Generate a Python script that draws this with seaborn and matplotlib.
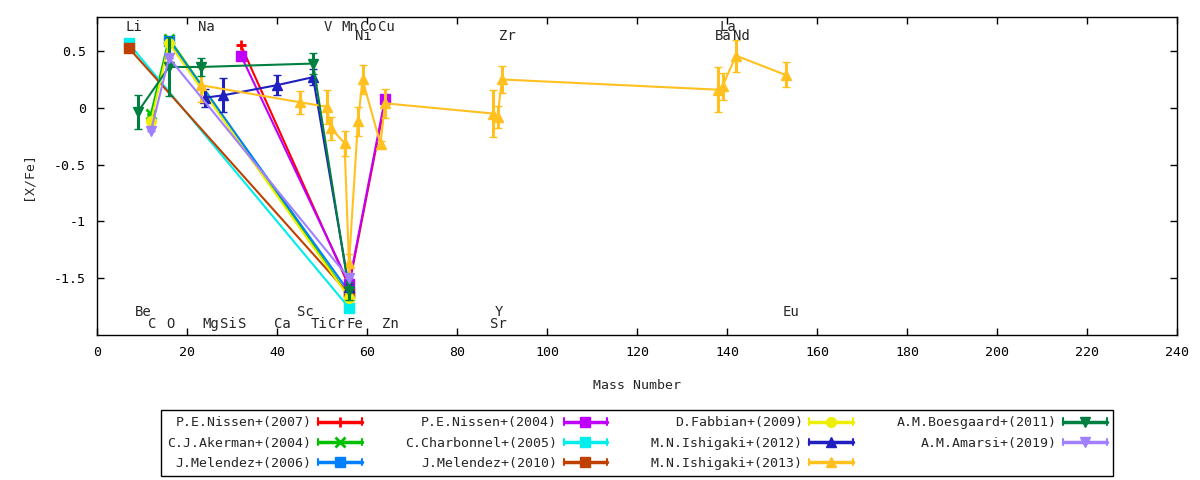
import matplotlib
matplotlib.use("Agg")
import matplotlib.pyplot as plt
import seaborn as sns
from matplotlib.lines import Line2D
from matplotlib.legend_handler import HandlerBase

# reference names, in gnuplot plotting order
refs = ["P.E.Nissen+(2007)", "C.J.Akerman+(2004)", "J.Melendez+(2006)",
        "P.E.Nissen+(2004)", "C.Charbonnel+(2005)", "J.Melendez+(2010)",
        "D.Fabbian+(2009)", "M.N.Ishigaki+(2012)", "M.N.Ishigaki+(2013)",
        "A.M.Boesgaard+(2011)", "A.M.Amarsi+(2019)"]
colors = ["#ff0000", "#00c000", "#0080ff", "#c000ff", "#00eeee", "#c04000",
          "#eeee00", "#2020c0", "#ffc020", "#008040", "#a080ff"]
markers = ["+", "x", "s", "s", "s", "s", "o", "^", "^", "v", "v"]

# mass number, [X/Fe], error
nissen07_m = [32, 56, 64]
nissen07_v = [0.55, -1.57, 0.05]
nissen07_e = [0, 0, 0]

akerman04_m = [12, 16, 56]
akerman04_v = [-0.05, 0.61, -1.66]
akerman04_e = [0, 0, 0]

melendez06_m = [16, 56]
melendez06_v = [0.59, -1.62]
melendez06_e = [0, 0]

nissen04_m = [32, 56, 64]
nissen04_v = [0.46, -1.55, 0.08]
nissen04_e = [0, 0, 0]

charbonnel05_m = [7, 56]
charbonnel05_v = [0.57, -1.76]
charbonnel05_e = [0, 0]

melendez10_m = [7, 56]
melendez10_v = [0.53, -1.64]
melendez10_e = [0, 0]

fabbian09_m = [12, 16, 56]
fabbian09_v = [-0.12, 0.57, -1.67]
fabbian09_e = [0, 0, 0]

ishigaki12_m = [24, 28, 40, 48, 56]
ishigaki12_v = [0.09, 0.11, 0.20, 0.27, -1.58]
ishigaki12_e = [0.08, 0.15, 0.09, 0.07, 0.03]

ishigaki13_m = [23, 45, 51, 52, 55, 56, 58, 59, 63, 64, 88, 89, 90, 138, 139, 142, 153]
ishigaki13_v = [0.20, 0.05, 0.01, -0.18, -0.31, -1.37, -0.12, 0.25, -0.32, 0.04,
                -0.05, -0.08, 0.25, 0.16, 0.19, 0.46, 0.29]
ishigaki13_e = [0.15, 0.10, 0.15, 0.10, 0.11, 0.08, 0.13, 0.13, 0.03, 0.13,
                0.21, 0.10, 0.12, 0.20, 0.12, 0.14, 0.11]

boesgaard11_m = [9, 16, 23, 48, 56]
boesgaard11_v = [-0.04, 0.36, 0.36, 0.39, -1.61]
boesgaard11_e = [0.15, 0.26, 0.08, 0.09, 0.08]

amarsi19_m = [12, 16, 56]
amarsi19_v = [-0.20, 0.44, -1.50]
amarsi19_e = [0, 0, 0]

series = [
    (nissen07_m, nissen07_v, nissen07_e),
    (akerman04_m, akerman04_v, akerman04_e),
    (melendez06_m, melendez06_v, melendez06_e),
    (nissen04_m, nissen04_v, nissen04_e),
    (charbonnel05_m, charbonnel05_v, charbonnel05_e),
    (melendez10_m, melendez10_v, melendez10_e),
    (fabbian09_m, fabbian09_v, fabbian09_e),
    (ishigaki12_m, ishigaki12_v, ishigaki12_e),
    (ishigaki13_m, ishigaki13_v, ishigaki13_e),
    (boesgaard11_m, boesgaard11_v, boesgaard11_e),
    (amarsi19_m, amarsi19_v, amarsi19_e),
]

# element labels: name, mass number, row (0,1 top; 2,3 bottom)
elem_names = ["Li", "Be", "C", "O", "Na", "Mg", "Si", "S", "Ca", "Sc", "Ti", "V", "Cr",
              "Mn", "Fe", "Ni", "Co", "Cu", "Zn", "Sr", "Y", "Zr", "Ba", "La", "Nd", "Eu"]
elem_mass = [7, 9, 12, 16, 23, 24, 28, 32, 40, 45, 48, 51, 52,
             55, 56, 58, 59, 63, 64, 88, 89, 90, 138, 139, 142, 153]
elem_row = [0, 2, 3, 3, 0, 3, 3, 3, 3, 2, 3, 0, 3,
            0, 3, 1, 0, 0, 3, 3, 2, 1, 1, 0, 1, 2]
row_y = [0.71, 0.63, -1.80, -1.90]


class ErrSample(HandlerBase):
    # gnuplot-like key sample: horizontal bar with end caps and a point
    def create_artists(self, legend, orig, xd, yd, w, h, fs, trans):
        y = h / 2 - yd
        x0, x1 = -xd, -xd + w
        c = orig.get_color()
        lw = orig.get_linewidth()
        arts = [Line2D([x0, x1], [y, y], color=c, lw=lw + 1),
                Line2D([x0, x0], [y - 0.35 * h, y + 0.35 * h], color=c, lw=lw),
                Line2D([x1, x1], [y - 0.35 * h, y + 0.35 * h], color=c, lw=lw),
                Line2D([(x0 + x1) / 2], [y], color=c, marker=orig.get_marker(),
                       markersize=orig.get_markersize(), mew=orig.get_markeredgewidth(),
                       ls="none")]
        for a in arts:
            a.set_transform(trans)
        return arts


sns.set_theme(style="ticks")
plt.rcParams["font.family"] = ["DejaVu Sans Mono", "DejaVu Sans"]
plt.rcParams["font.size"] = 9.5

fig = plt.figure(figsize=(12, 4.8), dpi=100)
ax = fig.add_axes([97 / 1200, 1 - 335 / 480, 1080 / 1200, 318 / 480])

handles = []
for i, (m, v, e) in enumerate(series):
    mew = 2 if markers[i] in ("+", "x") else 1
    ax.errorbar(m, v, yerr=e, color=colors[i], marker=markers[i], markersize=7, mew=mew,
                lw=1.5, elinewidth=2.2, capsize=3, capthick=2.2, zorder=2 + i)
    handles.append(Line2D([], [], color=colors[i], marker=markers[i], markersize=7,
                          mew=mew, lw=1.5))

for name, mass, row in zip(elem_names, elem_mass, elem_row):
    ax.text(mass - 0.6, row_y[row], name, ha="left", va="center", fontsize=10, zorder=20)

ax.set_xlim(0, 240)
ax.set_ylim(-2, 0.8)
ax.set_xticks(range(0, 241, 20))
ax.set_yticks([0.5, 0, -0.5, -1, -1.5])
ax.set_yticklabels(["0.5", "0", "-0.5", "-1", "-1.5"])
ax.tick_params(direction="in", top=True, right=True, length=5, width=1,
               labelsize=9.5, colors="black", pad=8)
for s in ax.spines.values():
    s.set_color("black")
    s.set_linewidth(1)
ax.set_xlabel("Mass Number", fontsize=9.5, labelpad=14)
ax.set_ylabel("[X/Fe]", fontsize=9.5, labelpad=14)

leg = fig.legend(handles, refs, loc="lower center", bbox_to_anchor=(637 / 1200, -3 / 480),
                 ncol=4, markerfirst=False, frameon=True, fancybox=False,
                 edgecolor="black", framealpha=1, handlelength=3.3, columnspacing=3.3,
                 handletextpad=0.5, labelspacing=0.55, borderpad=0.5, fontsize=9.5,
                 handler_map={Line2D: ErrSample()})
leg.get_frame().set_linewidth(1)

fig.savefig("out.png", dpi=100)
